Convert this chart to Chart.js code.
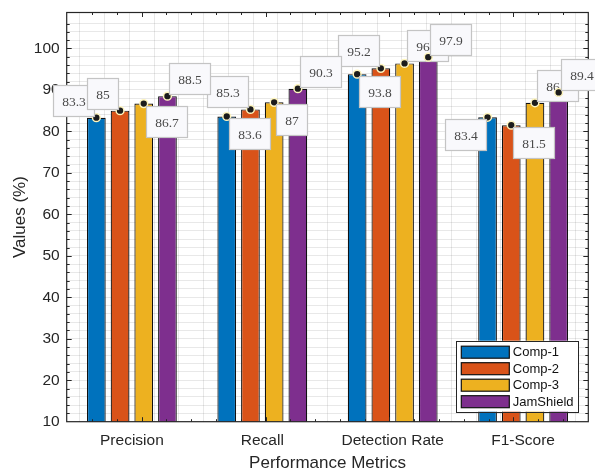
<!DOCTYPE html>
<html>
<head>
<meta charset="utf-8">
<script src="https://cdn.jsdelivr.net/npm/chart.js@4.4.1/dist/chart.umd.min.js"></script>
<style>
html,body{margin:0;padding:0;background:#fff;}
canvas{display:block;}
</style>
</head>
<body>
<canvas id="c" width="595" height="470"></canvas>
<script>
// ---- data ----
const categories = ['Precision', 'Recall', 'Detection Rate', 'F1-Score'];
const seriesNames = ['Comp-1', 'Comp-2', 'Comp-3', 'JamShield'];
const comp1 = [83.3, 83.6, 93.8, 83.4];
const comp2 = [85, 85.3, 95.2, 81.5];
const comp3 = [86.7, 87, 96.4, 86.9];
const jamShield = [88.5, 90.3, 97.9, 89.4];
const yTickLabels = [10, 20, 30, 40, 50, 60, 70, 80, 90, 100];
const yMin = 10;
const yMax = 108.67;

// ---- style ----
const colors = ['#0072BD', '#D95319', '#EDB120', '#7E2F8E'];
// label box placement relative to the marker, per series, per category
const labelPlacement = [
  ['NW', 'SE', 'SE', 'SW'],
  ['NW', 'NW', 'NW', 'SE'],
  ['SE', 'SE', 'NE', 'NE'],
  ['NE', 'NE', 'NE', 'NE']
];
const AX = '#262626';
const GRID = 'rgba(0,0,0,0.09)';
const SANS = '"Liberation Sans", Arial, Helvetica, sans-serif';
const SERIF = '"Liberation Serif", "Times New Roman", serif';

const gridX = [];
for (let i = 0; i < 20; i++) gridX.push(Math.round((0.6 + i * 0.2) * 10) / 10);

const seriesValues = [comp1, comp2, comp3, jamShield];

const overlay = {
  id: 'overlay',
  afterDatasetsDraw(chart) {
    const ctx = chart.ctx, a = chart.chartArea;
    const ys = chart.scales.y, xs = chart.scales.xg;
    ctx.save();
    // inward tick marks
    ctx.strokeStyle = AX;
    ctx.lineWidth = 1;
    ctx.beginPath();
    ys.ticks.forEach(t => {
      const v = t.value;
      if (v <= yMin || v >= yMax - 0.5) return;
      const py = Math.round(ys.getPixelForValue(v)) + 0.5;
      const len = (Math.round(v) % 10 === 0) ? 5 : 3;
      ctx.moveTo(a.left, py); ctx.lineTo(a.left + len, py);
      ctx.moveTo(a.right, py); ctx.lineTo(a.right - len, py);
    });
    xs.ticks.forEach(t => {
      const v = t.value;
      const px = Math.round(xs.getPixelForValue(v)) + 0.5;
      const len = (Math.abs(v - Math.round(v)) < 1e-6) ? 4.5 : 2.5;
      ctx.moveTo(px, a.top); ctx.lineTo(px, a.top + len);
      ctx.moveTo(px, a.bottom); ctx.lineTo(px, a.bottom - len);
    });
    ctx.stroke();
    // frame
    ctx.lineWidth = 1.2;
    ctx.strokeRect(a.left, a.top, a.right - a.left, a.bottom - a.top);

    // markers and value labels
    chart.data.datasets.forEach((ds, si) => {
      const meta = chart.getDatasetMeta(si);
      meta.data.forEach((bar, ci) => {
        const x = bar.x, y = bar.y;
        ctx.beginPath();
        ctx.arc(x, y, 3.9, 0, Math.PI * 2);
        ctx.fillStyle = '#1c1c1c';
        ctx.fill();
        ctx.lineWidth = 1.5;
        ctx.strokeStyle = '#fff6bf';
        ctx.stroke();

        const txt = String(ds.data[ci]);
        ctx.font = '13.5px ' + SERIF;
        const w = Math.round(ctx.measureText(txt).width + 17);
        const h = 31;
        const p = labelPlacement[si][ci], g = 2;
        const bx = Math.round(p.indexOf('W') >= 0 ? x - g - w : x + g) + 0.5;
        const by = Math.round(p.indexOf('N') >= 0 ? y - g - h : y + g) + 0.5;
        ctx.fillStyle = '#f9f9fc';
        ctx.fillRect(bx, by, w, h);
        ctx.lineWidth = 1.2;
        ctx.strokeStyle = '#c4c4c4';
        ctx.strokeRect(bx, by, w, h);
        ctx.fillStyle = '#4a4a4a';
        ctx.textAlign = 'center';
        ctx.textBaseline = 'middle';
        ctx.fillText(txt, bx + w / 2, by + h / 2 + 1);
      });
    });
    ctx.restore();
  },
  afterDraw(chart) {
    const ctx = chart.ctx, a = chart.chartArea;
    const bw = 122, bh = 71;
    const bx = a.right - 10 - bw, by = a.bottom - 10 - bh;
    ctx.save();
    ctx.fillStyle = '#fff';
    ctx.fillRect(bx, by, bw, bh);
    ctx.strokeStyle = AX;
    ctx.lineWidth = 1;
    ctx.strokeRect(Math.round(bx) + 0.5, Math.round(by) + 0.5, bw, bh);
    ctx.font = '13px ' + SANS;
    ctx.textAlign = 'left';
    ctx.textBaseline = 'middle';
    chart.data.datasets.forEach((ds, i) => {
      const cy = by + 11.5 + i * 16.5;
      ctx.fillStyle = ds.backgroundColor;
      ctx.fillRect(bx + 5, cy - 6, 48, 12);
      ctx.strokeStyle = '#111';
      ctx.lineWidth = 1.2;
      ctx.strokeRect(bx + 5, cy - 6, 48, 12);
      ctx.fillStyle = '#111';
      ctx.fillText(ds.label, bx + 56.5, cy + 0.5);
    });
    ctx.restore();
  }
};

new Chart(document.getElementById('c'), {
  type: 'bar',
  data: {
    labels: categories,
    datasets: seriesValues.map((vals, i) => ({
      label: seriesNames[i],
      data: vals,
      backgroundColor: colors[i],
      borderColor: '#111',
      borderWidth: 1.2,
      borderSkipped: 'start',
      categoryPercentage: 0.727,
      barPercentage: 0.79,
      xAxisID: 'x',
      yAxisID: 'y'
    }))
  },
  options: {
    responsive: false,
    animation: false,
    events: [],
    layout: { padding: { top: 12.5, right: 6.7, bottom: 0, left: 0 } },
    plugins: { legend: { display: false }, tooltip: { enabled: false } },
    scales: {
      x: {
        type: 'category',
        position: 'bottom',
        offset: true,
        grid: { display: false, drawTicks: false },
        border: { display: false },
        ticks: { color: AX, padding: 10, font: { family: SANS, size: 15.5 }, maxRotation: 0 },
        title: { display: true, text: 'Performance Metrics', color: AX, font: { family: SANS, size: 17, lineHeight: 0.75 }, padding: { top: 0, bottom: 0 } },
        afterFit: s => { s.height = 48.3; s.paddingLeft = 0; s.paddingRight = 0; }
      },
      xg: {
        type: 'linear',
        position: 'bottom',
        min: 0.5,
        max: 4.5,
        grid: { color: GRID, lineWidth: 1, drawTicks: false },
        border: { display: false },
        ticks: { display: false },
        afterBuildTicks: s => { s.ticks = gridX.map(v => ({ value: v })); },
        afterFit: s => { s.height = 0; s.paddingLeft = 0; s.paddingRight = 0; }
      },
      y: {
        min: yMin,
        max: yMax,
        grid: { color: GRID, lineWidth: 1, drawTicks: false },
        border: { display: false },
        ticks: {
          stepSize: 2,
          autoSkip: false,
          padding: 7,
          color: AX,
          font: { family: SANS, size: 15.5 },
          callback: v => yTickLabels.indexOf(Math.round(v * 100) / 100) >= 0 ? String(Math.round(v)) : ''
        },
        title: { display: true, text: 'Values (%)', color: AX, font: { family: SANS, size: 17, lineHeight: 1.2 }, padding: { top: 10, bottom: 0 } },
        afterFit: s => { s.width = 66.7; s.paddingTop = 0; s.paddingBottom = 0; }
      }
    }
  },
  plugins: [overlay]
});
</script>
</body>
</html>
